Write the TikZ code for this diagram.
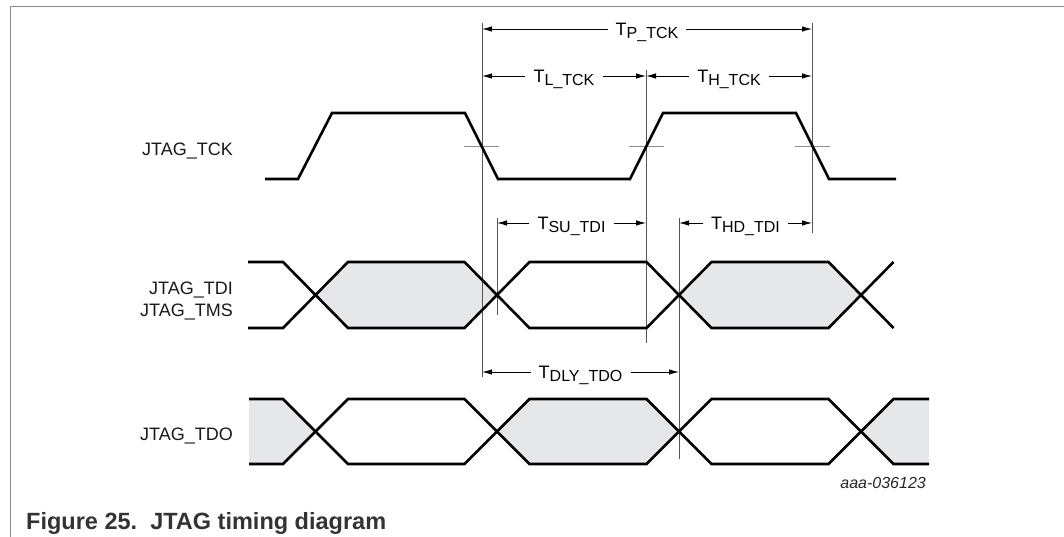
\documentclass[tikz,border=0pt]{standalone}
\usepackage{fontspec}
\setmainfont{Liberation Sans}
\usetikzlibrary{arrows.meta}
\definecolor{busfill}{HTML}{E6E7E8}
\definecolor{framegray}{HTML}{8A8A8A}
\definecolor{capgray}{HTML}{333333}
\definecolor{vgray}{HTML}{555555}
\newcommand{\tsub}[1]{T\raisebox{-3pt}{\fontsize{16}{18}\selectfont #1}}
\begin{document}
\begin{tikzpicture}[x=1pt,y=-1pt,
  sig/.style={line width=2.6pt, line join=miter},
  vline/.style={line width=0.9pt, draw=vgray},
  tickln/.style={line width=0.9pt, draw=black!45},
  dimarr/.style={line width=0.9pt, -{Latex[length=10pt,width=5.5pt]}},
  dimlbl/.style={font=\fontsize{18}{20}\selectfont, text height=13pt, text depth=0pt, inner ysep=0pt, inner xsep=8pt},
  siglbl/.style={font=\fontsize{18}{22}\selectfont, anchor=base east, inner sep=0pt, text=black!90}]
\useasboundingbox (0,0) rectangle (1064,537);
% frame
\draw[framegray, line width=1pt] (10,537) -- (10,7) -- (1064,7);

% bus fills
\fill[busfill] (315.5,295) -- (348,262) -- (464.5,262) -- (497,295) -- (464.5,328) -- (348,328) -- cycle;
\fill[busfill] (679,295) -- (711.5,262) -- (828.5,262) -- (861,295) -- (828.5,328) -- (711.5,328) -- cycle;
\fill[busfill] (249,399) -- (283,399) -- (315.5,431.5) -- (283,464) -- (249,464) -- cycle;
\fill[busfill] (497,431.5) -- (529.5,399) -- (646.5,399) -- (679,431.5) -- (646.5,464) -- (529.5,464) -- cycle;
\fill[busfill] (861,431.5) -- (893.5,399) -- (929,399) -- (929,464) -- (893.5,464) -- cycle;

% vertical reference lines
\coordinate (v1t) at (482,23);  \coordinate (v1b) at (482,377);
\coordinate (v2t) at (646,70);  \coordinate (v2b) at (646,343);
\coordinate (v3t) at (812,23);  \coordinate (v3b) at (812,233);
\coordinate (v4t) at (497,218); \coordinate (v4b) at (497,315);
\coordinate (v5t) at (679,218); \coordinate (v5b) at (679,459);
\draw[vline] (v1t) -- (v1b);
\draw[vline] (v2t) -- (v2b);
\draw[vline] (v3t) -- (v3b);
\draw[vline] (v4t) -- (v4b);
\draw[vline] (v5t) -- (v5b);

% threshold ticks
\draw[tickln] (464,146.5) -- (499,146.5);
\draw[tickln] (629,146.5) -- (664,146.5);
\draw[tickln] (795,146.5) -- (830,146.5);

% TCK
\draw[sig] (265,179) -- (298,179) -- (332,113) -- (465,113) -- (498,179) -- (630,179) -- (663,113) -- (796,113) -- (829,179) -- (896,179);

% TDI / TMS
\draw[sig] (248,262) -- (283,262) -- (348,328) -- (464.5,328) -- (529.5,262) -- (646.5,262) -- (711.5,328) -- (828.5,328) -- (893.5,262);
\draw[sig] (248,328) -- (283,328) -- (348,262) -- (464.5,262) -- (529.5,328) -- (646.5,328) -- (711.5,262) -- (828.5,262) -- (893.5,328);

% TDO
\draw[sig] (249,399) -- (283,399) -- (348,464) -- (464.5,464) -- (529.5,399) -- (646.5,399) -- (711.5,464) -- (828.5,464) -- (893.5,399) -- (929,399);
\draw[sig] (249,464) -- (283,464) -- (348,399) -- (464.5,399) -- (529.5,464) -- (646.5,464) -- (711.5,399) -- (828.5,399) -- (893.5,464) -- (929,464);

% dimension labels and arrows
\node[dimlbl] (ptck) at (647,29) {\tsub{P\_TCK}};
\draw[dimarr] (ptck.west) -- (ptck.west -| v1t);
\draw[dimarr] (ptck.east) -- (ptck.east -| v3t);

\node[dimlbl] (ltck) at (564,76) {\tsub{L\_TCK}};
\draw[dimarr] (ltck.west) -- (ltck.west -| v1t);
\draw[dimarr] (ltck.east) -- (ltck.east -| v2t);

\node[dimlbl] (htck) at (729,76) {\tsub{H\_TCK}};
\draw[dimarr] (htck.west) -- (htck.west -| v2t);
\draw[dimarr] (htck.east) -- (htck.east -| v3t);

\node[dimlbl] (sutdi) at (571.5,223) {\tsub{SU\_TDI}};
\draw[dimarr] (sutdi.west) -- (sutdi.west -| v4t);
\draw[dimarr] (sutdi.east) -- (sutdi.east -| v2t);

\node[dimlbl] (hdtdi) at (745.5,223) {\tsub{HD\_TDI}};
\draw[dimarr] (hdtdi.west) -- (hdtdi.west -| v5t);
\draw[dimarr] (hdtdi.east) -- (hdtdi.east -| v3t);

\node[dimlbl] (dlytdo) at (580.5,372) {\tsub{DLY\_TDO}};
\draw[dimarr] (dlytdo.west) -- (dlytdo.west -| v1t);
\draw[dimarr] (dlytdo.east) -- (dlytdo.east -| v5t);

% signal names
\node[siglbl] (ntck) at (233,156) {JTAG\_TCK};
\node[siglbl] (ntdi) at (233,294) {JTAG\_TDI};
\node[siglbl] (ntms) at (233,316) {JTAG\_TMS};
\node[siglbl] (ntdo) at (233,440) {JTAG\_TDO};

% code and caption
\node[anchor=base east, inner sep=0pt, font=\itshape\fontsize{16}{18}\selectfont, text=black!85] (code) at (926,488) {aaa-036123};
\node[anchor=base west, inner sep=0pt, font=\bfseries\fontsize{23.5}{26}\selectfont, text=capgray] (caption) at (26,529) {Figure 25.\ \ JTAG timing diagram};
\end{tikzpicture}
\end{document}
